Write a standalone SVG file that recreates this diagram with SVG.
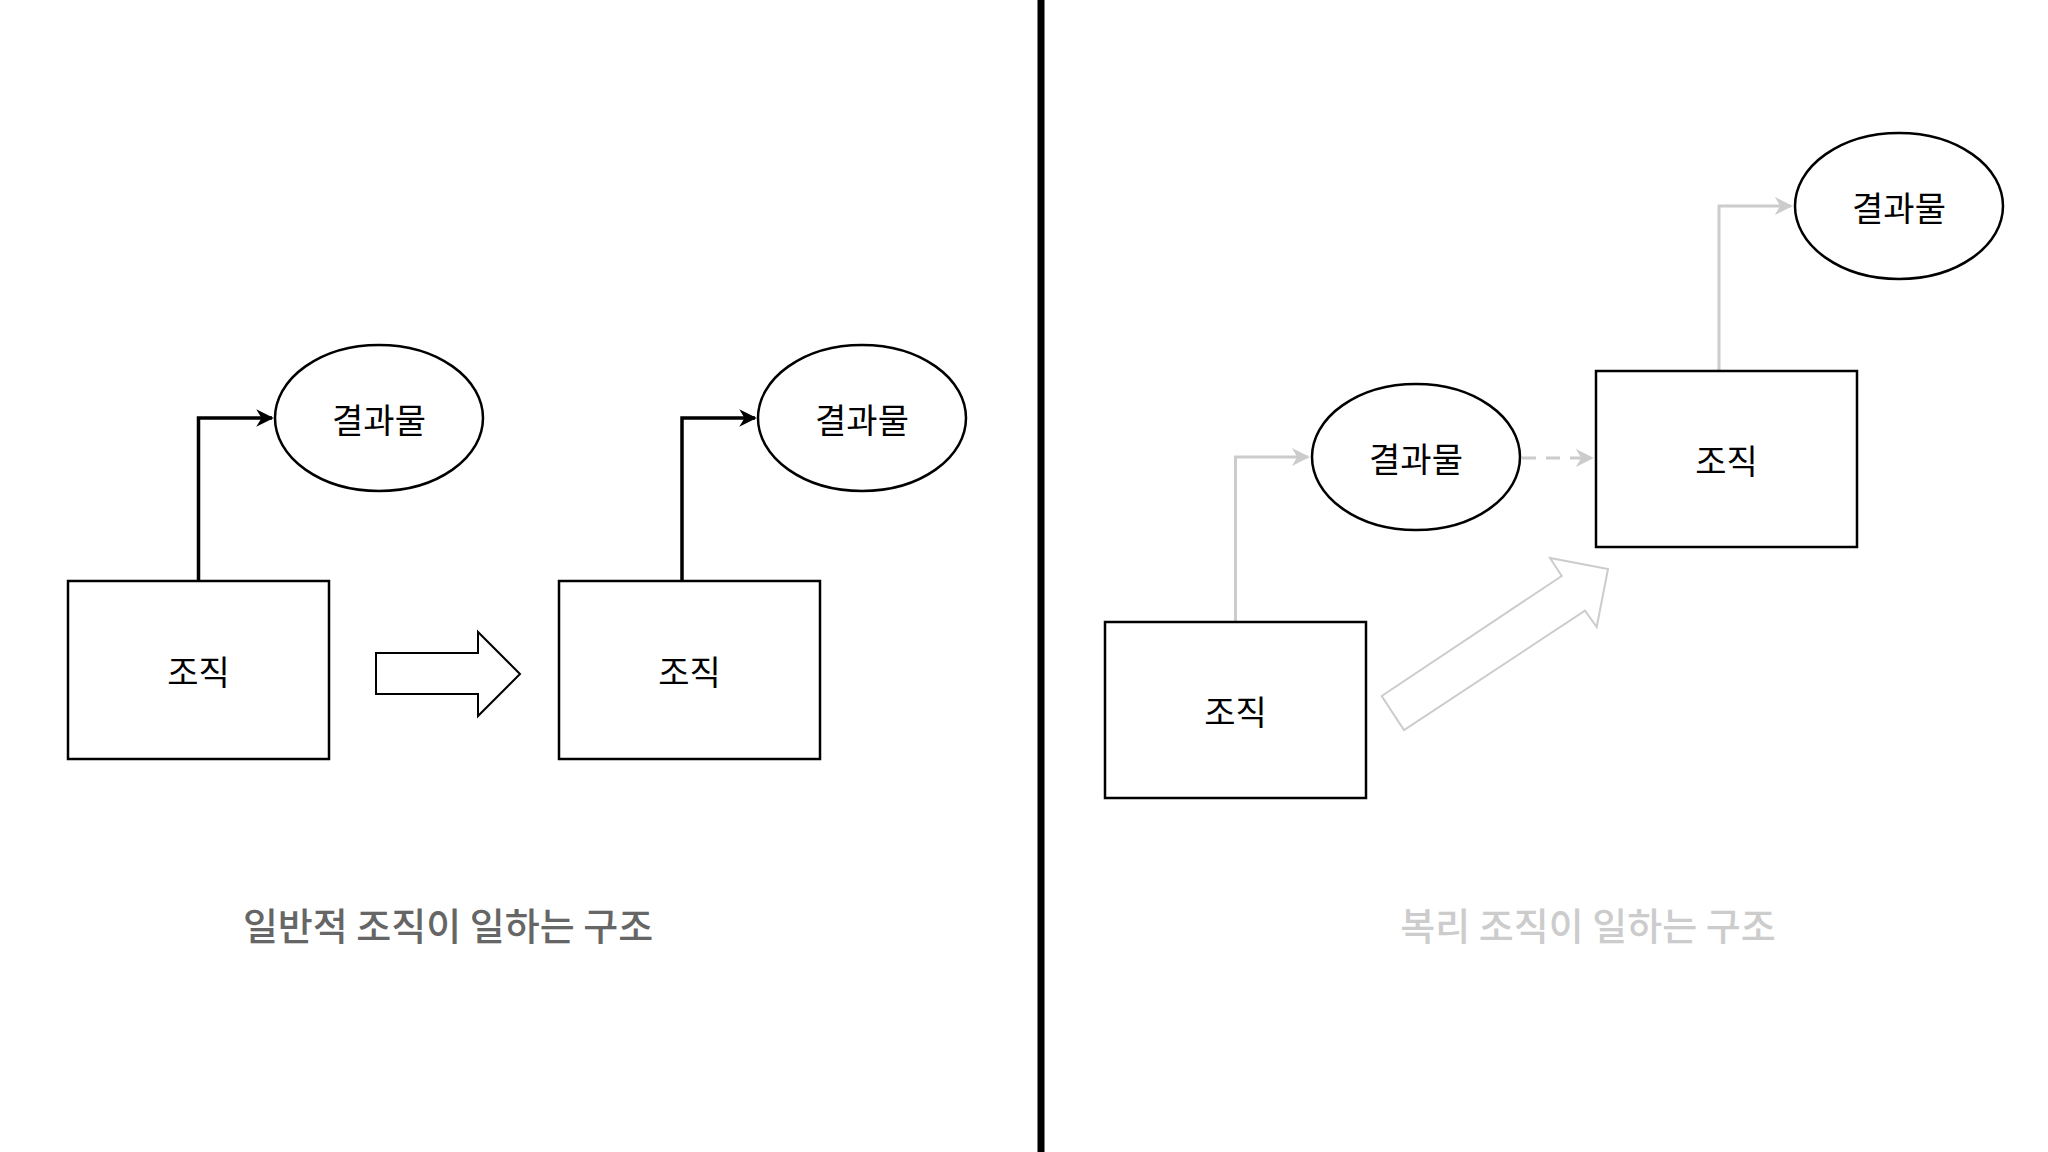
<svg xmlns="http://www.w3.org/2000/svg" width="2048" height="1152" viewBox="0 0 2048 1152">
<style>
.n{fill:#fff;stroke:#000;stroke-width:2.5}
.t{font-family:"Noto Sans CJK KR",sans-serif;font-size:34px;text-anchor:middle;dominant-baseline:central;fill:#000}
.k{fill:none;stroke:#000;stroke-width:3.5}
.g{fill:none;stroke:#ccc;stroke-width:3}
.h{font-family:"Noto Sans CJK KR",sans-serif;font-size:38px;font-weight:500;text-anchor:middle;dominant-baseline:central}
</style>
<defs>
<marker id="ak" viewBox="0 0 10 10" refX="9" refY="5" markerWidth="5" markerHeight="5" orient="auto" markerUnits="strokeWidth"><path d="M0,0L10,5L0,10L3,5z" fill="#000"/></marker>
<marker id="ag" viewBox="0 0 10 10" refX="9" refY="5" markerWidth="6" markerHeight="6" orient="auto" markerUnits="strokeWidth"><path d="M0,0L10,5L0,10L3,5z" fill="#ccc"/></marker>
</defs>
<rect width="2048" height="1152" fill="#fff"/>
<g id="connectors">
<path class="k" d="M198.5,581V418H272" marker-end="url(#ak)"/>
<path class="k" d="M682,581V418H755" marker-end="url(#ak)"/>
<polygon points="376,653 478,653 478,632 520,674 478,716 478,694 376,694" fill="#fff" stroke="#000" stroke-width="2"/>
<path class="g" d="M1235.5,622V457H1308" marker-end="url(#ag)"/>
<path class="g" d="M1522,458H1592" stroke-dasharray="14,10" marker-end="url(#ag)"/>
<path class="g" d="M1719,371V206H1791" marker-end="url(#ag)"/>
<polygon points="1381.7,696 1561.7,576 1550,558 1608,569 1596.7,627 1585,610.7 1404,730" fill="#fff" stroke="#ccc" stroke-width="2"/>
</g>
<line x1="1041" y1="0" x2="1041" y2="1152" stroke="#000" stroke-width="7"/>
<g id="org1"><rect class="n" x="68" y="581" width="261" height="178"/><text class="t" x="198.5" y="670">조직</text></g>
<g id="res1"><ellipse class="n" cx="379" cy="418" rx="104" ry="73"/><text class="t" x="379" y="418">결과물</text></g>
<g id="org2"><rect class="n" x="559" y="581" width="261" height="178"/><text class="t" x="689.5" y="670">조직</text></g>
<g id="res2"><ellipse class="n" cx="862" cy="418" rx="104" ry="73"/><text class="t" x="862" y="418">결과물</text></g>
<g id="org3"><rect class="n" x="1105" y="622" width="261" height="176"/><text class="t" x="1235.5" y="710">조직</text></g>
<g id="res3"><ellipse class="n" cx="1416" cy="457" rx="104" ry="73"/><text class="t" x="1416" y="457">결과물</text></g>
<g id="org4"><rect class="n" x="1596" y="371" width="261" height="176"/><text class="t" x="1726.5" y="459">조직</text></g>
<g id="res4"><ellipse class="n" cx="1899" cy="206" rx="104" ry="73"/><text class="t" x="1899" y="206">결과물</text></g>
<g id="title1"><text class="h" x="448" y="923" fill="#666">일반적 조직이 일하는 구조</text></g>
<g id="title2"><text class="h" x="1588" y="923" fill="#ccc">복리 조직이 일하는 구조</text></g>
</svg>
